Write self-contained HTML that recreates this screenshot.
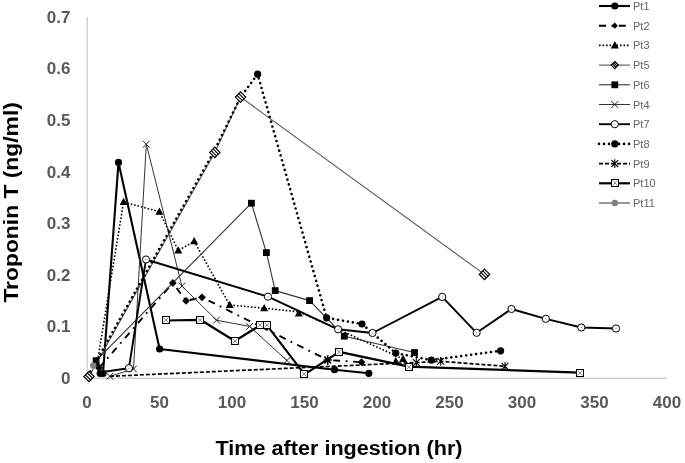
<!DOCTYPE html>
<html><head><meta charset="utf-8"><style>
html,body{margin:0;padding:0;background:#fff;}
svg{display:block;will-change:transform;}
.tk{font-family:"Liberation Sans",sans-serif;font-weight:bold;font-size:17px;fill:#595959;}
.lg{font-family:"Liberation Sans",sans-serif;font-size:11px;fill:#666;}
.tt{font-family:"Liberation Sans",sans-serif;font-weight:bold;font-size:19.5px;fill:#000;}
</style></head><body>
<svg width="685" height="463" viewBox="0 0 685 463">
<rect width="685" height="463" fill="#fff"/>
<path d="M87.2 17V378.3H667" fill="none" stroke="#d0d0d0" stroke-width="1.4"/>
<text x="70.5" y="383.8" class="tk" text-anchor="end">0</text>
<text x="70.5" y="332.2" class="tk" text-anchor="end">0.1</text>
<text x="70.5" y="280.7" class="tk" text-anchor="end">0.2</text>
<text x="70.5" y="229.1" class="tk" text-anchor="end">0.3</text>
<text x="70.5" y="177.5" class="tk" text-anchor="end">0.4</text>
<text x="70.5" y="125.9" class="tk" text-anchor="end">0.5</text>
<text x="70.5" y="74.4" class="tk" text-anchor="end">0.6</text>
<text x="70.5" y="22.8" class="tk" text-anchor="end">0.7</text>
<text x="87" y="408.3" class="tk" text-anchor="middle">0</text>
<text x="159.5" y="408.3" class="tk" text-anchor="middle">50</text>
<text x="232" y="408.3" class="tk" text-anchor="middle">100</text>
<text x="304.5" y="408.3" class="tk" text-anchor="middle">150</text>
<text x="377" y="408.3" class="tk" text-anchor="middle">200</text>
<text x="449.5" y="408.3" class="tk" text-anchor="middle">250</text>
<text x="522" y="408.3" class="tk" text-anchor="middle">300</text>
<text x="594.5" y="408.3" class="tk" text-anchor="middle">350</text>
<text x="667" y="408.3" class="tk" text-anchor="middle">400</text>
<text class="tt" x="215.5" y="454.8" textLength="247" lengthAdjust="spacingAndGlyphs">Time after ingestion (hr)</text>
<text class="tt" transform="translate(18 302.6) rotate(-90)" x="0" y="0" textLength="200.5" lengthAdjust="spacingAndGlyphs">Troponin T (ng/ml)</text>
<path d="M103 373.5L118.5 162.4L159.6 349L334.5 369.7L368.8 373.3" fill="none" stroke="#000" stroke-width="2.1" stroke-linejoin="round"/>
<path d="M99 368L172.8 283L186.1 300.8L202 297.3L327.7 360L361.5 362.2" fill="none" stroke="#000" stroke-width="1.9" stroke-dasharray="7 5.5 1.8 5.5" stroke-linejoin="round"/>
<path d="M97 364L123.6 202L159.4 211.7L178.3 250.5L194.2 241.3L229.7 305L264.2 308.2L298.8 311.8L338.1 329.3L403.1 359" fill="none" stroke="#000" stroke-width="1.6" stroke-dasharray="1.6 1.9" stroke-linejoin="round"/>
<path d="M89 376.5L214.8 152.4L240.6 97.1L484.5 274.4" fill="none" stroke="#555" stroke-width="1.1" stroke-linejoin="round"/>
<path d="M96.1 360.7L251.4 203.2L266.4 252.6L275.2 290.6L309.6 300.6L344.3 336.2L414.5 352.5" fill="none" stroke="#333" stroke-width="1.1" stroke-linejoin="round"/>
<path d="M109.9 376.3L133.5 369L146.3 144.2L181.9 286L216.5 320.2L249.6 326.4L286.9 360.5" fill="none" stroke="#333" stroke-width="1" stroke-linejoin="round"/>
<path d="M102 372L128.9 368.2L146 259.5L268 296.7L338.1 329.3L372.5 333L442.2 296.9L476.6 332.8L511.5 309L545.8 318.8L581.3 327.5L616 328.5" fill="none" stroke="#000" stroke-width="1.9" stroke-linejoin="round"/>
<path d="M88 375.9L213.8 151.8L240.6 97.1L257.6 74.2L326.6 317.8L362 324L395.8 353.1L431.4 360.1L500.6 350.8" fill="none" stroke="#000" stroke-width="2.6" stroke-dasharray="0.01 5" stroke-linecap="round" stroke-linejoin="round"/>
<path d="M109.9 376.3L416.3 362.5L440.7 361.3L505 366.3" fill="none" stroke="#000" stroke-width="1.7" stroke-dasharray="4 2" stroke-linejoin="round"/>
<path d="M165.6 320.5L200.4 319.8L234.8 341L260.4 325.2L266.8 325.2L304.5 374.3L339.3 351.8L408.7 366.6L579.8 372.7" fill="none" stroke="#000" stroke-width="2.2" stroke-linejoin="round"/>
<circle cx="103" cy="373.5" r="3.6" fill="#000"/>
<circle cx="118.5" cy="162.4" r="3.6" fill="#000"/>
<circle cx="159.6" cy="349" r="3.6" fill="#000"/>
<circle cx="334.5" cy="369.7" r="3.6" fill="#000"/>
<circle cx="368.8" cy="373.3" r="3.6" fill="#000"/>
<path d="M99 364.1L102.9 368L99 371.9L95.1 368Z" fill="#000"/>
<path d="M172.8 279.1L176.7 283L172.8 286.9L168.9 283Z" fill="#000"/>
<path d="M186.1 296.9L190 300.8L186.1 304.7L182.2 300.8Z" fill="#000"/>
<path d="M202 293.4L205.9 297.3L202 301.2L198.1 297.3Z" fill="#000"/>
<path d="M361.5 358.3L365.4 362.2L361.5 366.1L357.6 362.2Z" fill="#000"/>
<path d="M97 359.7L101 367L93 367Z" fill="#000"/>
<path d="M123.6 197.7L127.6 205L119.6 205Z" fill="#000"/>
<path d="M159.4 207.4L163.4 214.7L155.4 214.7Z" fill="#000"/>
<path d="M178.3 246.2L182.3 253.5L174.3 253.5Z" fill="#000"/>
<path d="M194.2 237L198.2 244.3L190.2 244.3Z" fill="#000"/>
<path d="M229.7 300.7L233.7 308L225.7 308Z" fill="#000"/>
<path d="M264.2 303.9L268.2 311.2L260.2 311.2Z" fill="#000"/>
<path d="M403.1 354.7L407.1 362L399.1 362Z" fill="#000"/>
<path d="M89 371.3L94.2 376.5L89 381.7L83.8 376.5Z" fill="#fff" stroke="#000" stroke-width="1.2"/><path d="M85.5 374.8L90.7 380M87.3 373L92.5 378.2" stroke="#000" stroke-width="1.1"/>
<path d="M214.8 147.2L220 152.4L214.8 157.6L209.6 152.4Z" fill="#fff" stroke="#000" stroke-width="1.2"/><path d="M211.3 150.7L216.5 155.9M213.1 148.9L218.3 154.1" stroke="#000" stroke-width="1.1"/>
<path d="M240.6 91.9L245.8 97.1L240.6 102.3L235.4 97.1Z" fill="#fff" stroke="#000" stroke-width="1.2"/><path d="M237.1 95.4L242.3 100.6M238.9 93.6L244.1 98.8" stroke="#000" stroke-width="1.1"/>
<path d="M484.5 269.2L489.7 274.4L484.5 279.6L479.3 274.4Z" fill="#fff" stroke="#000" stroke-width="1.2"/><path d="M481 272.7L486.2 277.9M482.8 270.9L488 276.1" stroke="#000" stroke-width="1.1"/>
<rect x="92.7" y="357.3" width="6.8" height="6.8" fill="#000"/>
<rect x="248" y="199.8" width="6.8" height="6.8" fill="#000"/>
<rect x="263" y="249.2" width="6.8" height="6.8" fill="#000"/>
<rect x="271.8" y="287.2" width="6.8" height="6.8" fill="#000"/>
<rect x="306.2" y="297.2" width="6.8" height="6.8" fill="#000"/>
<rect x="340.9" y="332.8" width="6.8" height="6.8" fill="#000"/>
<rect x="411.1" y="349.1" width="6.8" height="6.8" fill="#000"/>
<path d="M106.5 372.9L113.3 379.7M113.3 372.9L106.5 379.7" stroke="#222" stroke-width="1"/>
<path d="M130.1 365.6L136.9 372.4M136.9 365.6L130.1 372.4" stroke="#222" stroke-width="1"/>
<path d="M142.9 140.8L149.7 147.6M149.7 140.8L142.9 147.6" stroke="#222" stroke-width="1"/>
<path d="M178.5 282.6L185.3 289.4M185.3 282.6L178.5 289.4" stroke="#222" stroke-width="1"/>
<path d="M213.1 316.8L219.9 323.6M219.9 316.8L213.1 323.6" stroke="#222" stroke-width="1"/>
<path d="M246.2 323L253 329.8M253 323L246.2 329.8" stroke="#222" stroke-width="1"/>
<path d="M283.5 357.1L290.3 363.9M290.3 357.1L283.5 363.9" stroke="#222" stroke-width="1"/>
<circle cx="128.9" cy="368.2" r="3.6" fill="#fff" stroke="#000" stroke-width="1"/><circle cx="128.9" cy="368.2" r="0.5" fill="#555"/>
<circle cx="146" cy="259.5" r="3.6" fill="#fff" stroke="#000" stroke-width="1"/><circle cx="146" cy="259.5" r="0.5" fill="#555"/>
<circle cx="268" cy="296.7" r="3.6" fill="#fff" stroke="#000" stroke-width="1"/><circle cx="268" cy="296.7" r="0.5" fill="#555"/>
<circle cx="338.1" cy="329.3" r="3.6" fill="#fff" stroke="#000" stroke-width="1"/><circle cx="338.1" cy="329.3" r="0.5" fill="#555"/>
<circle cx="372.5" cy="333" r="3.6" fill="#fff" stroke="#000" stroke-width="1"/><circle cx="372.5" cy="333" r="0.5" fill="#555"/>
<circle cx="442.2" cy="296.9" r="3.6" fill="#fff" stroke="#000" stroke-width="1"/><circle cx="442.2" cy="296.9" r="0.5" fill="#555"/>
<circle cx="476.6" cy="332.8" r="3.6" fill="#fff" stroke="#000" stroke-width="1"/><circle cx="476.6" cy="332.8" r="0.5" fill="#555"/>
<circle cx="511.5" cy="309" r="3.6" fill="#fff" stroke="#000" stroke-width="1"/><circle cx="511.5" cy="309" r="0.5" fill="#555"/>
<circle cx="545.8" cy="318.8" r="3.6" fill="#fff" stroke="#000" stroke-width="1"/><circle cx="545.8" cy="318.8" r="0.5" fill="#555"/>
<circle cx="581.3" cy="327.5" r="3.6" fill="#fff" stroke="#000" stroke-width="1"/><circle cx="581.3" cy="327.5" r="0.5" fill="#555"/>
<circle cx="616" cy="328.5" r="3.6" fill="#fff" stroke="#000" stroke-width="1"/><circle cx="616" cy="328.5" r="0.5" fill="#555"/>
<circle cx="257.6" cy="74.2" r="3.6" fill="#000"/>
<circle cx="326.6" cy="317.8" r="3.6" fill="#000"/>
<circle cx="362" cy="324" r="3.6" fill="#000"/>
<circle cx="395.8" cy="353.1" r="3.6" fill="#000"/>
<circle cx="431.4" cy="360.1" r="3.6" fill="#000"/>
<circle cx="500.6" cy="350.8" r="3.6" fill="#000"/>
<path d="M412.9 359.1L419.7 365.9M419.7 359.1L412.9 365.9M416.3 358.2L416.3 366.8" stroke="#000" stroke-width="1.1"/>
<path d="M437.3 357.9L444.1 364.7M444.1 357.9L437.3 364.7M440.7 357L440.7 365.6" stroke="#000" stroke-width="1.1"/>
<path d="M501.6 362.9L508.4 369.7M508.4 362.9L501.6 369.7M505 362L505 370.6" stroke="#000" stroke-width="1.1"/>
<rect x="162.5" y="316.5" width="7" height="7" fill="#fff" stroke="#000" stroke-width="1"/><path d="M163.5 317.5L168.5 322.5M168.5 317.5L163.5 322.5" stroke="#666" stroke-width="0.7"/>
<rect x="196.5" y="316.5" width="7" height="7" fill="#fff" stroke="#000" stroke-width="1"/><path d="M197.5 317.5L202.5 322.5M202.5 317.5L197.5 322.5" stroke="#666" stroke-width="0.7"/>
<rect x="231.5" y="337.5" width="7" height="7" fill="#fff" stroke="#000" stroke-width="1"/><path d="M232.5 338.5L237.5 343.5M237.5 338.5L232.5 343.5" stroke="#666" stroke-width="0.7"/>
<rect x="256.5" y="321.5" width="7" height="7" fill="#fff" stroke="#000" stroke-width="1"/><path d="M257.5 322.5L262.5 327.5M262.5 322.5L257.5 327.5" stroke="#666" stroke-width="0.7"/>
<rect x="263.5" y="321.5" width="7" height="7" fill="#fff" stroke="#000" stroke-width="1"/><path d="M264.5 322.5L269.5 327.5M269.5 322.5L264.5 327.5" stroke="#666" stroke-width="0.7"/>
<rect x="300.5" y="370.5" width="7" height="7" fill="#fff" stroke="#000" stroke-width="1"/><path d="M301.5 371.5L306.5 376.5M306.5 371.5L301.5 376.5" stroke="#666" stroke-width="0.7"/>
<rect x="335.5" y="348.5" width="7" height="7" fill="#fff" stroke="#000" stroke-width="1"/><path d="M336.5 349.5L341.5 354.5M341.5 349.5L336.5 354.5" stroke="#666" stroke-width="0.7"/>
<rect x="405.5" y="363.5" width="7" height="7" fill="#fff" stroke="#000" stroke-width="1"/><path d="M406.5 364.5L411.5 369.5M411.5 364.5L406.5 369.5" stroke="#666" stroke-width="0.7"/>
<rect x="576.5" y="369.5" width="7" height="7" fill="#fff" stroke="#000" stroke-width="1"/><path d="M577.5 370.5L582.5 375.5M582.5 370.5L577.5 375.5" stroke="#666" stroke-width="0.7"/>
<circle cx="93.3" cy="365.5" r="3.2" fill="#808080"/>
<path d="M298.8 309.2L302.8 316.5L294.8 316.5Z" fill="#000"/><path d="M324.3 356.6L331.1 363.4M331.1 356.6L324.3 363.4M327.7 355.3V364.7M323.5 360H331.9" stroke="#000" stroke-width="1.6"/><circle cx="100" cy="373.5" r="3.4" fill="#000"/><path d="M395.8 357.1L399.8 364.4L391.8 364.4Z" fill="#000"/>
<path d="M599 6H630" fill="none" stroke="#000" stroke-width="2.1"/>
<circle cx="614.8" cy="6" r="3.6" fill="#000"/>
<text x="633" y="10" class="lg">Pt1</text>
<path d="M599 25.7H630" fill="none" stroke="#000" stroke-width="1.9" stroke-dasharray="7 5.5 1.8 5.5"/>
<path d="M614.8 22.6L617.9 25.7L614.8 28.8L611.7 25.7Z" fill="#000"/>
<text x="633" y="29.7" class="lg">Pt2</text>
<path d="M599 45.4H630" fill="none" stroke="#000" stroke-width="1.6" stroke-dasharray="1.6 1.9"/>
<path d="M614.8 41.1L618.8 48.4L610.8 48.4Z" fill="#000"/>
<text x="633" y="49.4" class="lg">Pt3</text>
<path d="M599 65.1H630" fill="none" stroke="#555" stroke-width="1.1"/>
<path d="M614.8 61.5L618.4 65.1L614.8 68.7L611.2 65.1Z" fill="#fff" stroke="#000" stroke-width="1.2"/><path d="M612.4 63.9L616 67.5M613.6 62.7L617.2 66.3" stroke="#000" stroke-width="1.1"/>
<text x="633" y="69.1" class="lg">Pt5</text>
<path d="M599 84.8H630" fill="none" stroke="#333" stroke-width="1.1"/>
<rect x="611.4" y="81.4" width="6.8" height="6.8" fill="#000"/>
<text x="633" y="88.8" class="lg">Pt6</text>
<path d="M599 104.5H630" fill="none" stroke="#333" stroke-width="1"/>
<path d="M611.4 101.1L618.2 107.9M618.2 101.1L611.4 107.9" stroke="#222" stroke-width="1"/>
<text x="633" y="108.5" class="lg">Pt4</text>
<path d="M599 124.2H630" fill="none" stroke="#000" stroke-width="1.9"/>
<circle cx="614.8" cy="124.2" r="3.6" fill="#fff" stroke="#000" stroke-width="1"/><circle cx="614.8" cy="124.2" r="0.5" fill="#555"/>
<text x="633" y="128.2" class="lg">Pt7</text>
<path d="M599 143.9H630" fill="none" stroke="#000" stroke-width="2.6" stroke-dasharray="0.01 5" stroke-linecap="round"/>
<circle cx="614.8" cy="143.9" r="3.6" fill="#000"/>
<text x="633" y="147.9" class="lg">Pt8</text>
<path d="M599 163.6H630" fill="none" stroke="#000" stroke-width="1.7" stroke-dasharray="4 2"/>
<path d="M611.4 160.2L618.2 167M618.2 160.2L611.4 167M614.8 159.3L614.8 167.9" stroke="#000" stroke-width="1.1"/>
<text x="633" y="167.6" class="lg">Pt9</text>
<path d="M599 183.3H630" fill="none" stroke="#000" stroke-width="2.2"/>
<rect x="611.5" y="179.5" width="7" height="7" fill="#fff" stroke="#000" stroke-width="1"/><path d="M612.5 180.5L617.5 185.5M617.5 180.5L612.5 185.5" stroke="#666" stroke-width="0.7"/>
<text x="633" y="187.3" class="lg">Pt10</text>
<path d="M599 203H630" fill="none" stroke="#808080" stroke-width="1.6"/>
<circle cx="614.8" cy="203" r="3.2" fill="#808080"/>
<text x="633" y="207" class="lg">Pt11</text>
</svg>
</body></html>
